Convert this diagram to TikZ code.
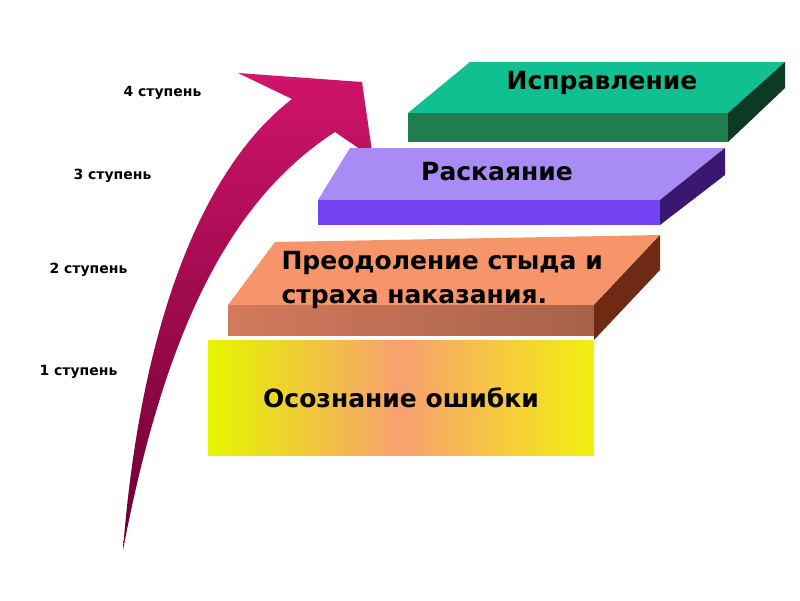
\documentclass[tikz,border=0pt]{standalone}
\usepackage{fontspec}
\setmainfont{DejaVu Sans}
\definecolor{arrtop}{HTML}{D0146A}
\definecolor{arrbot}{HTML}{6A0030}
\definecolor{s1l}{HTML}{E6F500}
\definecolor{s1m}{HTML}{F8A070}
\definecolor{s1r}{HTML}{F2F010}
\definecolor{s2top}{HTML}{F7956A}
\definecolor{s2front}{HTML}{D27A5C}
\definecolor{s2side}{HTML}{6E2A14}
\definecolor{s3top}{HTML}{A98BF5}
\definecolor{s3front}{HTML}{7242F2}
\definecolor{s3side}{HTML}{3A1870}
\definecolor{s4top}{HTML}{10C090}
\definecolor{s4front}{HTML}{1E7E4E}
\definecolor{s4side}{HTML}{0C3A22}
\begin{document}
\begin{tikzpicture}[x=1pt,y=-1pt,
  lab/.style={font=\bfseries\fontsize{14}{16}\selectfont,anchor=west},
  big/.style={font=\bfseries\fontsize{25}{34}\selectfont}]
\useasboundingbox (0,0) rectangle (800,600);
% arrow
\shade[top color=arrtop, bottom color=arrbot]
  (123,550) .. controls (140,330) and (200,170) .. (292,99)
  -- (238,73) -- (362,82) -- (373,158) -- (335,132)
  .. controls (230,200) and (165,330) .. (123,550) -- cycle;
% step 1
\node[draw=none,minimum width=386,minimum height=115,anchor=north west,inner sep=0,
  left color=s1l, right color=s1r, middle color=s1m] (s1) at (208,340) {};
\node[big] (t1) at (401,398) {Осознание ошибки};
% step 2
\fill[s2top] (228,305) -- (275,242) -- (660,235) -- (594,305) -- cycle;
\shade[left color=s2front, right color=s2front!80!black] (228,305) rectangle (594,335);
\fill[s2side] (594,305) -- (660,235) -- (660,270) -- (594,340) -- cycle;
\node[big,anchor=west,align=left] (t2) at (278,280) {Преодоление стыда и\\страха наказания.};
% step 3
\fill[s3top] (318,200) -- (350,148) -- (725,148) -- (660,200) -- cycle;
\fill[s3front] (318,200) rectangle (660,225);
\fill[s3side] (660,200) -- (725,148) -- (725,175) -- (660,225) -- cycle;
\node[big] (t3) at (497,172) {Раскаяние};
% step 4
\fill[s4top] (408,113) -- (470,62) -- (785,62) -- (728,113) -- cycle;
\fill[s4front] (408,113) rectangle (728,142);
\fill[s4side] (728,113) -- (785,62) -- (785,88) -- (728,142) -- cycle;
\node[big] (t4) at (602,83) {Исправление};
% labels
\node[lab] (l4) at (120,93) {4 ступень};
\node[lab] (l3) at (70,176) {3 ступень};
\node[lab] (l2) at (46,270) {2 ступень};
\node[lab] (l1) at (36,372) {1 ступень};
\end{tikzpicture}
\end{document}
